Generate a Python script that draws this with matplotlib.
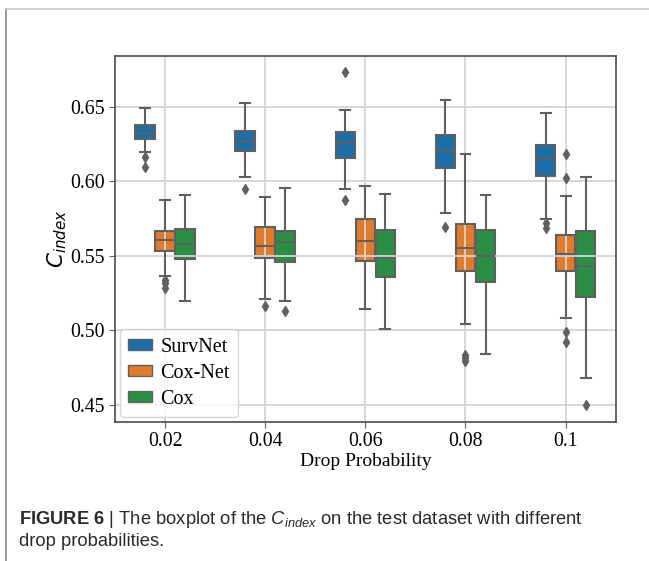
import matplotlib
matplotlib.use("Agg")
import matplotlib.pyplot as plt
from matplotlib.lines import Line2D
from matplotlib.patches import Patch


probabilities = ["0.02", "0.04", "0.06", "0.08", "0.1"]
models = ["SurvNet", "Cox-Net", "Cox"]
colors = ["#1a6fab", "#e07b2b", "#2a8f44"]

# box statistics, one entry per drop probability
survnet_whishi = [0.6490, 0.6523, 0.6478, 0.6545, 0.6460]
survnet_q3 = [0.6375, 0.6339, 0.6330, 0.6310, 0.6241]
survnet_med = [0.6326, 0.6270, 0.6259, 0.6201, 0.6154]
survnet_q1 = [0.6286, 0.6205, 0.6156, 0.6087, 0.6033]
survnet_whislo = [0.6196, 0.6029, 0.5950, 0.5790, 0.5747]
survnet_fliers = [[0.6160, 0.6098], [0.5948], [0.6730, 0.5873], [0.5696], [0.5718, 0.5689]]

coxnet_whishi = [0.5875, 0.5897, 0.5968, 0.6185, 0.5903]
coxnet_q3 = [0.5669, 0.5694, 0.5747, 0.5714, 0.5640]
coxnet_med = [0.5607, 0.5568, 0.5602, 0.5555, 0.5511]
coxnet_q1 = [0.5535, 0.5486, 0.5468, 0.5401, 0.5401]
coxnet_whislo = [0.5367, 0.5209, 0.5142, 0.5044, 0.5082]
coxnet_fliers = [[0.5335, 0.5318, 0.5283], [0.5166], [], [0.4838, 0.4812, 0.4796],
                 [0.6181, 0.6024, 0.4992, 0.4925]]

cox_whishi = [0.5908, 0.5955, 0.5915, 0.5906, 0.6027]
cox_q3 = [0.5682, 0.5667, 0.5671, 0.5671, 0.5667]
cox_med = [0.5582, 0.5591, 0.5484, 0.5497, 0.5432]
cox_q1 = [0.5481, 0.5461, 0.5357, 0.5323, 0.5225]
cox_whislo = [0.5198, 0.5196, 0.5008, 0.4840, 0.4680]
cox_fliers = [[], [0.5133], [], [], [0.4503]]

series = [
    (survnet_whislo, survnet_q1, survnet_med, survnet_q3, survnet_whishi, survnet_fliers),
    (coxnet_whislo, coxnet_q1, coxnet_med, coxnet_q3, coxnet_whishi, coxnet_fliers),
    (cox_whislo, cox_q1, cox_med, cox_q3, cox_whishi, cox_fliers),
]

plt.rcParams["font.family"] = "serif"
plt.rcParams["font.serif"] = ["Liberation Serif", "DejaVu Serif"]
plt.rcParams["mathtext.fontset"] = "custom"
plt.rcParams["mathtext.rm"] = "Liberation Sans"
plt.rcParams["mathtext.it"] = "Liberation Sans:italic"
plt.rcParams["mathtext.bf"] = "Liberation Sans:bold"

gray = "#606060"
fig = plt.figure(figsize=(6.49, 5.61), dpi=100)
ax = fig.add_axes([0.1772, 0.2483, 0.7715, 0.6524])

offsets = [-0.2, 0.0, 0.2]
for k, (lo, q1, med, q3, hi, fl) in enumerate(series):
    stats = []
    for i in range(len(probabilities)):
        stats.append(dict(whislo=lo[i], q1=q1[i], med=med[i], q3=q3[i],
                          whishi=hi[i], fliers=fl[i]))
    positions = [i + offsets[k] for i in range(len(probabilities))]
    res = ax.bxp(stats, positions=positions, widths=0.196, patch_artist=True,
                 boxprops=dict(facecolor=colors[k], edgecolor=gray, linewidth=1.5),
                 whiskerprops=dict(color=gray, linewidth=1.5),
                 capprops=dict(color=gray, linewidth=1.5),
                 medianprops=dict(color=gray, linewidth=1.5),
                 flierprops=dict(marker="d", markerfacecolor=gray, markeredgecolor=gray,
                                 markersize=5.5))
    for b in res["boxes"]:
        b.set_zorder(1)

ax.set_xlim(-0.5, 4.5)
ax.set_ylim(0.4388, 0.6842)
ax.set_xticks(range(len(probabilities)))
ax.set_xticklabels(probabilities)
ax.set_yticks([0.45, 0.50, 0.55, 0.60, 0.65])
ax.set_yticklabels(["0.45", "0.50", "0.55", "0.60", "0.65"])
ax.tick_params(labelsize=14.3, color=gray, length=4)
ax.grid(True, color="#d4d4d4", linewidth=1.3)
for s in ax.spines.values():
    s.set_color("#4a4a4a")
    s.set_linewidth(1.2)

ax.set_xlabel("Drop Probability", fontsize=14, labelpad=1)
ax.set_ylabel(r"$C_{index}$", fontsize=15.5, math_fontfamily="dejavusans", labelpad=1)

handles = [Patch(facecolor=c, edgecolor=gray, label=m) for c, m in zip(colors, models)]
ax.legend(handles=handles, loc="lower left", fontsize=14.5, borderaxespad=0.25,
          handlelength=1.2, handleheight=0.45, handletextpad=0.4, labelspacing=0.35,
          borderpad=0.4)

# page border and caption
fig.add_artist(Line2D([6 / 649, 6 / 649], [0, 1 - 9 / 561], color="#8a8a8a", linewidth=1.2))
fig.add_artist(Line2D([6 / 649, 1], [1 - 9 / 561, 1 - 9 / 561], color="#c8c8c8", linewidth=1.2))
fig.text(19 / 649, 1 - 519 / 561,
         r"$\mathbf{FIGURE\ 6}$ | The boxplot of the $C_{index}$ on the test dataset with different",
         family="Liberation Sans", fontsize=13.2, color="#2a2a2a", va="center")
fig.text(19 / 649, 1 - 541 / 561, "drop probabilities.",
         family="Liberation Sans", fontsize=13.2, color="#2a2a2a", va="center")

fig.savefig("out.png", dpi=100)
